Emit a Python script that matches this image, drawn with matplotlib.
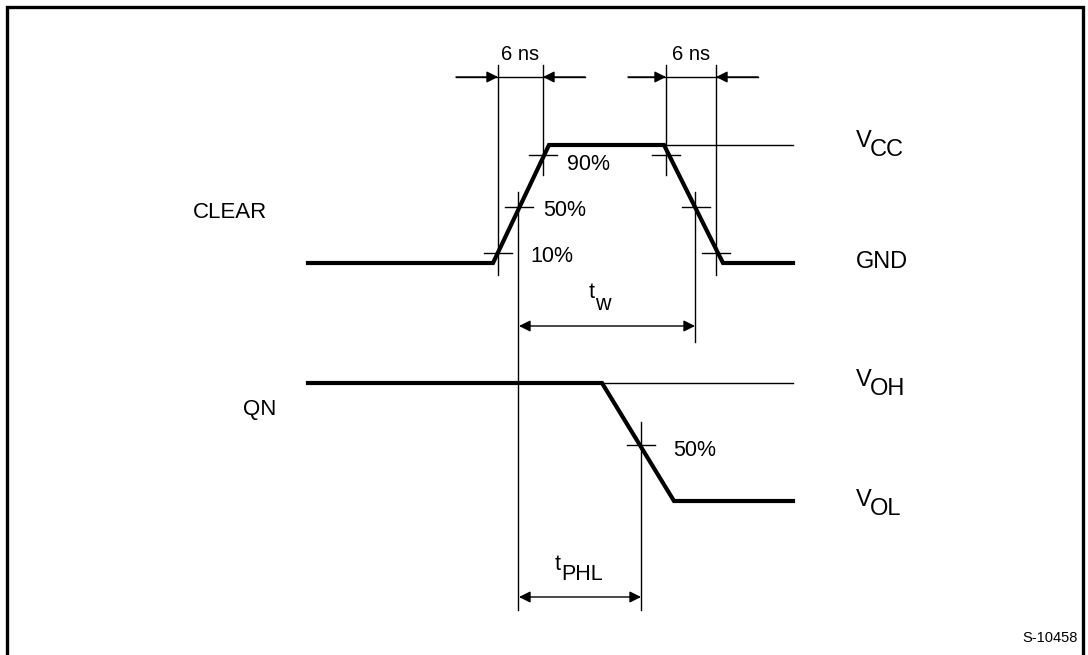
import matplotlib
matplotlib.use("Agg")
import matplotlib.pyplot as plt

plt.rcParams['font.family'] = ['Liberation Sans', 'DejaVu Sans']

# waveform corners (drawing units = pixels of the sheet)
clear_x = [308, 493, 549, 664, 723, 793]
clear_y = [263, 263, 145, 145, 263, 263]
qn_x = [308, 602, 674, 793]
qn_y = [383, 383, 501, 501]

# reference levels (thin lines)
ref_lines = [(664, 793, 145), (602, 793, 383)]

# threshold crosses: (x, y)
cross_pts = [(498, 253), (519, 207), (543, 155), (666, 155), (696, 207), (716, 253), (641, 445)]

# vertical timing lines: (x, y_top, y_bottom)
vlines = [(498, 65, 275), (543, 65, 175), (666, 65, 175), (716, 65, 275),
          (518, 192, 610), (695, 192, 342), (641, 422, 610)]

# 6 ns markers: (outer_left, tip_left, tip_right, outer_right, y)
ns_marks = [(456, 498, 543, 585, 77), (628, 666, 716, 758, 77)]
ns_labels = ['6 ns', '6 ns']

fig = plt.figure(figsize=(10.88, 6.55), dpi=100)
ax = fig.add_axes([0, 0, 1, 1])
ax.set_xlim(0, 1088)
ax.set_ylim(655, 0)
ax.axis('off')

# frame
ax.plot([7, 7, 1083, 1083], [655, 7, 7, 655], color='black', lw=2.4, solid_joinstyle='miter')

thin = dict(color='black', lw=1.0)
ax.plot(clear_x, clear_y, color='black', lw=3.0, solid_joinstyle='miter')
ax.plot(qn_x, qn_y, color='black', lw=3.0, solid_joinstyle='miter')
for x0, x1, y in ref_lines:
    ax.plot([x0, x1], [y, y], **thin)
for x, y in cross_pts:
    ax.plot([x - 14, x + 14], [y, y], **thin)
for x, y0, y1 in vlines:
    ax.plot([x, x], [y0, y1], **thin)

arr = dict(arrowstyle='-|>', color='black', lw=1.0, mutation_scale=17, shrinkA=0, shrinkB=0)
for (a, b, c, d, y), lab in zip(ns_marks, ns_labels):
    ax.plot([a, d], [y, y], **thin)
    ax.annotate('', xy=(b, y), xytext=(a, y), arrowprops=arr)
    ax.annotate('', xy=(c, y), xytext=(d, y), arrowprops=arr)
    ax.text((b + c) / 2, 54, lab, ha='center', va='center', fontsize=14.5)

arr2 = dict(arrowstyle='<|-|>', color='black', lw=1.0, mutation_scale=17, shrinkA=0, shrinkB=0)
ax.annotate('', xy=(519, 326), xytext=(695, 326), arrowprops=arr2)
ax.annotate('', xy=(519, 597), xytext=(641, 597), arrowprops=arr2)

fs = 15.5
ax.text(567, 165, '90%', va='center', fontsize=fs)
ax.text(543, 210, '50%', va='center', fontsize=fs)
ax.text(530, 257, '10%', va='center', fontsize=fs)
ax.text(673, 450, '50%', va='center', fontsize=fs)

ax.text(193, 212, 'CLEAR', va='center', fontsize=16)
ax.text(243, 410, 'QN', va='center', fontsize=16)

# t_w and t_PHL
ax.text(589, 293, 't', va='center', fontsize=fs)
ax.text(595, 304, 'w', va='center', fontsize=fs)
ax.text(555, 564, 't', va='center', fontsize=fs)
ax.text(561, 575, 'PHL', va='center', fontsize=fs)

# right-hand level labels
def level(x, y, sub):
    ax.text(x, y - 4, 'V', va='center', fontsize=17)
    ax.text(x + 14, y + 5, sub, va='center', fontsize=17)

level(856, 145, 'CC')
ax.text(856, 262, 'GND', va='center', fontsize=17)
level(856, 384, 'OH')
level(856, 504, 'OL')

ax.text(1078, 638, 'S-10458', ha='right', va='center', fontsize=10.5)

fig.savefig('out.png', dpi=100)
